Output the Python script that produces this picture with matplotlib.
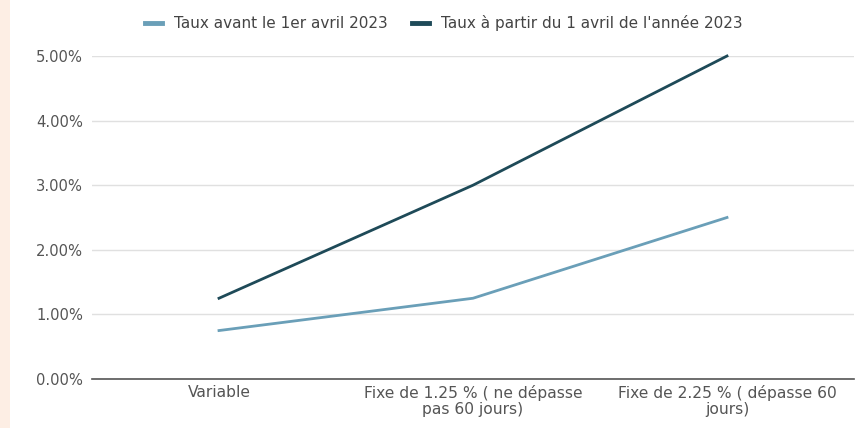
# Taux : avant / à partir du 1er avril 2023
import matplotlib.pyplot as plt
from matplotlib.patches import Rectangle
from matplotlib.ticker import PercentFormatter

categories = ["Variable",
              "Fixe de 1.25 % ( ne dépasse\npas 60 jours)",
              "Fixe de 2.25 % ( dépasse 60\njours)"]
taux_avant = [0.75, 1.25, 2.5]
taux_apres = [1.25, 3.0, 5.0]
yticks = [0, 1, 2, 3, 4, 5]

label_avant = "Taux avant le 1er avril 2023"
label_apres = "Taux à partir du 1 avril de l'année 2023"

LIGHT = "#6a9fb8"
DARK = "#1e4a58"
GREY = "#555555"


def main():
    plt.rcParams["font.family"] = ["DejaVu Sans"]
    fig = plt.figure(figsize=(8.61, 4.28), dpi=100)
    fig.patches.append(Rectangle((0, 0), 10 / 861, 1, transform=fig.transFigure,
                                 facecolor="#fdeee4", edgecolor="none", zorder=0))

    ax = fig.add_axes([92 / 861, 1 - 379 / 428, (854 - 92) / 861, (379 - 56) / 428])
    x = range(len(categories))
    ax.plot(x, taux_avant, color=LIGHT, lw=2, label=label_avant, clip_on=False, zorder=3)
    ax.plot(x, taux_apres, color=DARK, lw=2, label=label_apres, clip_on=False, zorder=3)

    ax.set_xlim(-0.5, len(categories) - 0.5)
    ax.set_ylim(0, 5)
    ax.set_yticks(yticks)
    ax.yaxis.set_major_formatter(PercentFormatter(decimals=2))
    ax.set_xticks(list(x))
    ax.set_xticklabels(categories, fontsize=11.2, color=GREY, linespacing=1.1)
    ax.tick_params(axis="y", labelsize=10.6, labelcolor=GREY, length=0, pad=6.5)
    ax.tick_params(axis="x", length=0, pad=4.5)

    ax.grid(axis="y", color="#e0e0e0", lw=1)
    ax.set_axisbelow(True)
    for s in ["top", "right", "left"]:
        ax.spines[s].set_visible(False)
    ax.spines["bottom"].set_color("#555555")
    ax.spines["bottom"].set_linewidth(1.2)

    leg = fig.legend(loc="center", bbox_to_anchor=(444 / 861, 1 - 23 / 428), ncol=2,
                     frameon=False, fontsize=11, handlelength=1.1, handletextpad=0.8,
                     columnspacing=1.6)
    for t in leg.get_texts():
        t.set_color("#444444")
    for h in leg.legend_handles:
        h.set_linewidth(3.5)

    fig.savefig("out.png", dpi=100)
    plt.close(fig)


if __name__ == "__main__":
    main()
